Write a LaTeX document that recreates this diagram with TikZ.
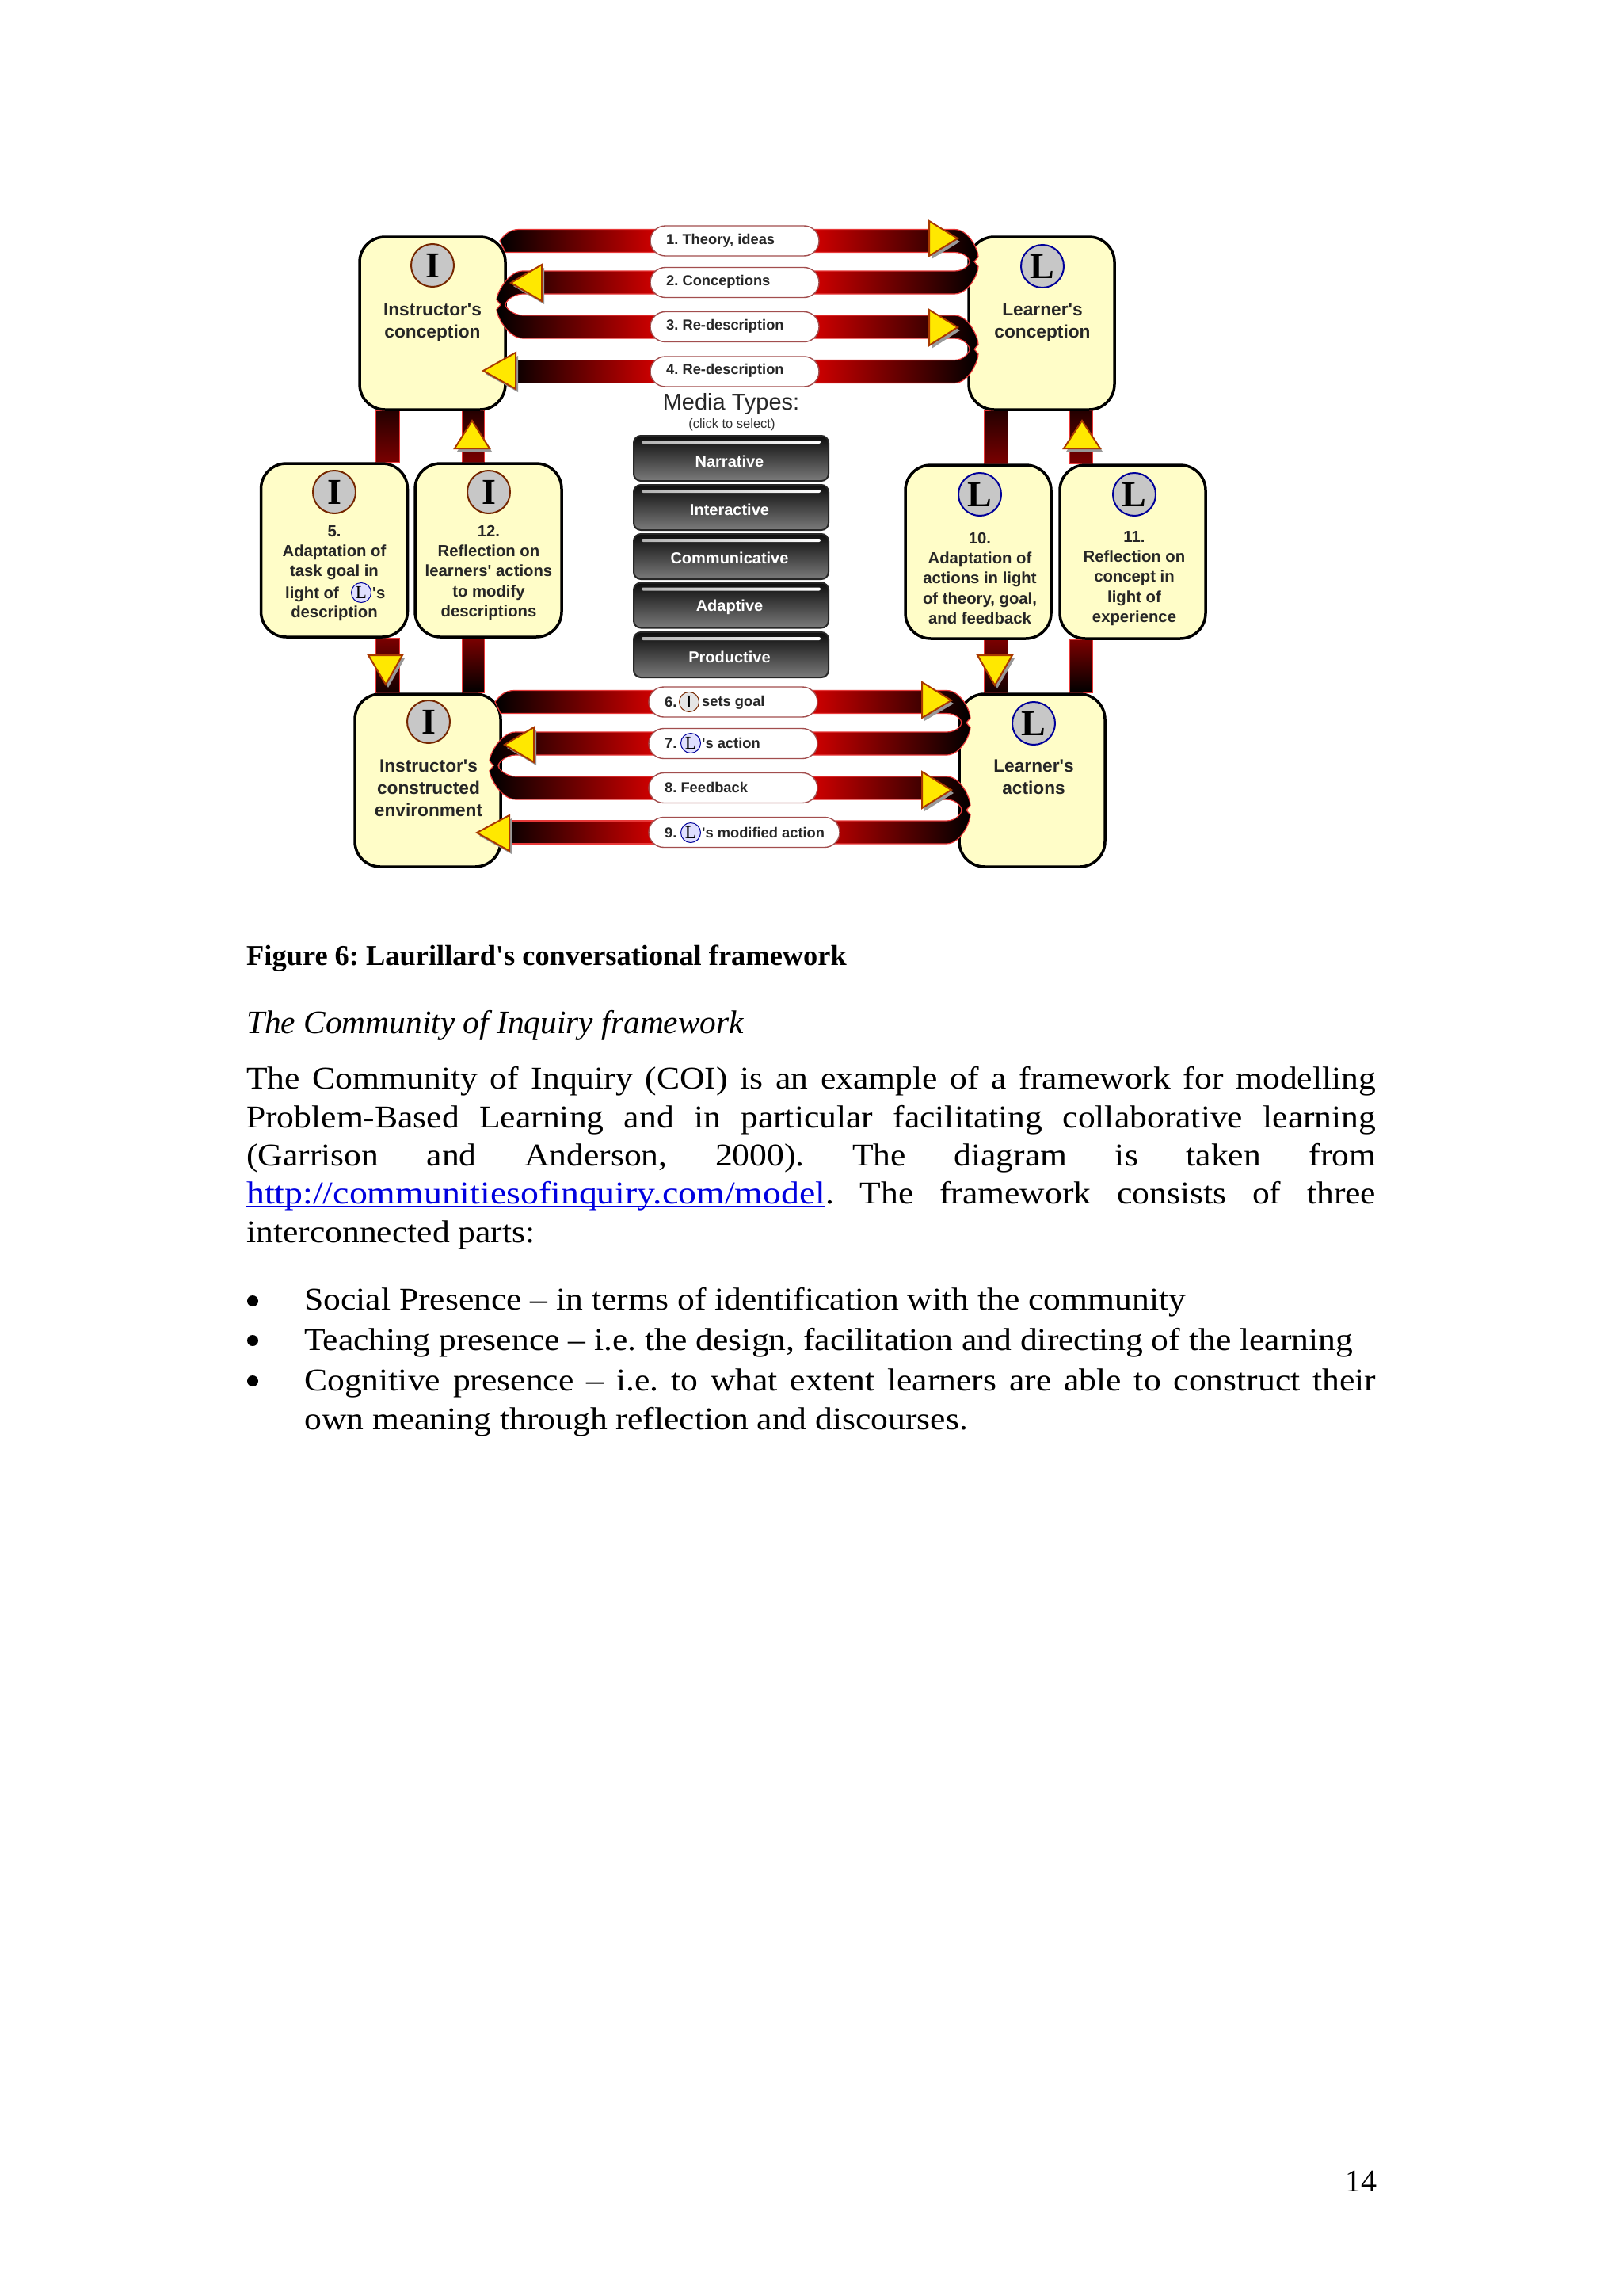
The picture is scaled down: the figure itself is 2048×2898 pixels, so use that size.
\documentclass[tikz,border=0pt]{standalone}
\usepackage{fontspec}
\setmainfont[Ligatures=ResetAll]{Liberation Serif}
\newfontfamily\arialf{Liberation Sans}
\newfontfamily\capf{Liberation Serif}
\newfontfamily\bodyf[FakeStretch=1.09,Ligatures=ResetAll]{Liberation Serif}
\newfontfamily\linkf[FakeStretch=1.145,Ligatures=ResetAll]{Liberation Serif}
\usetikzlibrary{calc}
\pgfdeclarelayer{back}
\pgfdeclarelayer{bands}
\pgfdeclarelayer{pills}
\pgfdeclarelayer{front}
\pgfsetlayers{back,main,bands,pills,front}
\definecolor{boxfill}{HTML}{FFFDC8}
\definecolor{bandred}{HTML}{D00000}
\definecolor{bandedge}{HTML}{E83838}
\definecolor{maroon}{HTML}{7A0000}
\definecolor{tyellow}{HTML}{FFE800}
\definecolor{tedge}{HTML}{A83800}
\definecolor{linkblue}{HTML}{0000E0}
\newcommand{\fs}[2]{\fontsize{#1}{#2}\selectfont}
\tikzset{
  x=1pt,y=-1pt,
  every node/.append style={execute at begin node=\frenchspacing},
  bigbox/.style={draw=black,line width=3.5pt,fill=boxfill,rounded corners=32pt,inner sep=0pt,minimum width=#1},
  pillbox/.style={draw=bandedge!60!black!80,line width=1.4pt,fill=white,rounded corners=19pt,inner sep=0pt,minimum height=38pt},
  bandL/.style={left color=black,right color=bandred,draw=bandedge,line width=1.2pt},
  bandR/.style={left color=bandred,right color=black,draw=bandedge,line width=1.2pt},
  tri/.style={fill=tyellow,draw=tedge,line width=2pt,line join=miter},
  trishadow/.style={fill=black!40},
  circI/.style={circle,draw=black!30!tedge,line width=2pt,fill=black!22,inner sep=0pt,minimum size=54pt,font=\bfseries\fs{46}{46}},
  circL/.style={circle,draw=blue!60!black,line width=2pt,fill=black!22,inner sep=0pt,minimum size=54pt,font=\bfseries\fs{46}{46}},
  miniI/.style={circle,draw=black!30!tedge,line width=1pt,fill=black!10,inner sep=0pt,minimum size=25pt,font=\fs{23}{23}},
  miniL/.style={circle,draw=blue!60!black,line width=1pt,fill=blue!12,inner sep=0pt,minimum size=25pt,font=\fs{23}{23}},
  boxhead/.style={font=\arialf\bfseries\fs{22.7}{28},align=center,inner sep=0pt,text=black!85},
  boxtext/.style={font=\arialf\bfseries\fs{20.3}{25.2},align=center,inner sep=0pt,text=black!85},
  pilltext/.style={font=\arialf\bfseries\fs{18.3}{20},anchor=west,inner sep=0pt,text=black!85},
  btn/.style={draw=black!85,line width=2pt,rounded corners=9pt,top color=black!95,bottom color=black!52,minimum width=246pt,minimum height=57pt,inner sep=0pt},
  btnlabel/.style={text=white,font=\arialf\bfseries\fs{20}{20},inner sep=0pt},
  btnglow/.style={left color=black!30,right color=white,rounded corners=2pt},
  body/.style={anchor=base west,inner sep=0pt,font=\bodyf\fs{40}{48}},
  dot/.style={circle,fill=black,inner sep=0pt,minimum size=14pt},
}
\newcommand{\tl}[2]{\hbox to #1pt{\spaceskip=.22em plus 1fil\relax #2}}
\newcommand{\linkbox}[1]{\setbox0\hbox{\linkf #1}\textcolor{linkblue}{\rlap{\raise-5pt\hbox to \wd0{\leaders\hrule height 2.4pt\hfill}}\box0}}
\newcommand{\URight}[3]{%
  \coordinate (ua) at (#3,0 |- #1.east);
  \coordinate (ub) at (#3,0 |- #2.east);
  \coordinate (um) at ($(ua)!.5!(ub)$);
  \path[bandR] ([xshift=-8pt,yshift=14.5pt]#1.east) -- ([yshift=14.5pt]ua)
   .. controls ([xshift=18pt,yshift=14.5pt]ua) and ([xshift=30pt,yshift=15pt]um) .. ([xshift=30pt,yshift=6pt]um)
   -- ([xshift=25pt]um) -- ([xshift=30pt,yshift=-6pt]um)
   .. controls ([xshift=30pt,yshift=-15pt]um) and ([xshift=18pt,yshift=-14.5pt]ub) .. ([yshift=-14.5pt]ub)
   -- ([xshift=-8pt,yshift=-14.5pt]#2.east) -- ([xshift=-8pt,yshift=14.5pt]#2.east) -- ([yshift=14.5pt]ub)
   .. controls ([xshift=12pt,yshift=14.5pt]ub) and ([xshift=19pt,yshift=-4pt]um) .. ([xshift=19pt]um)
   .. controls ([xshift=19pt,yshift=4pt]um) and ([xshift=12pt,yshift=-14.5pt]ua) .. ([yshift=-14.5pt]ua)
   -- ([xshift=-8pt,yshift=-14.5pt]#1.east) -- cycle;}
\newcommand{\ULeft}[3]{%
  \coordinate (ua) at (#3,0 |- #1.west);
  \coordinate (ub) at (#3,0 |- #2.west);
  \coordinate (um) at ($(ua)!.5!(ub)$);
  \path[bandL] ([xshift=8pt,yshift=14.5pt]#1.west) -- ([yshift=14.5pt]ua)
   .. controls ([xshift=-18pt,yshift=14.5pt]ua) and ([xshift=-33pt,yshift=15pt]um) .. ([xshift=-33pt,yshift=6pt]um)
   -- ([xshift=-28pt]um) -- ([xshift=-33pt,yshift=-6pt]um)
   .. controls ([xshift=-33pt,yshift=-15pt]um) and ([xshift=-18pt,yshift=-14.5pt]ub) .. ([yshift=-14.5pt]ub)
   -- ([xshift=8pt,yshift=-14.5pt]#2.west) -- ([xshift=8pt,yshift=14.5pt]#2.west) -- ([yshift=14.5pt]ub)
   .. controls ([xshift=-12pt,yshift=14.5pt]ub) and ([xshift=-22pt,yshift=-4pt]um) .. ([xshift=-22pt]um)
   .. controls ([xshift=-22pt,yshift=4pt]um) and ([xshift=-12pt,yshift=-14.5pt]ua) .. ([yshift=-14.5pt]ua)
   -- ([xshift=8pt,yshift=-14.5pt]#1.west) -- cycle;}
\newcommand{\BCorner}[2]{%
  \coordinate (ua) at (#2,0 |- #1.west);
  \path[bandL] ([xshift=8pt,yshift=14.5pt]#1.west) -- ([yshift=14.5pt]ua)
   .. controls ([xshift=-12pt,yshift=14.5pt]ua) and ([xshift=-19pt,yshift=7pt]ua) .. ([xshift=-24pt,yshift=0pt]ua)
   -- ([xshift=-17pt,yshift=-14.5pt]ua) -- ([xshift=8pt,yshift=-14.5pt]#1.west) -- cycle;}
\newcommand{\BStraight}[2]{%
  \coordinate (ua) at (#2,0 |- #1.west);
  \path[bandL] ([yshift=14.5pt]ua) rectangle ([xshift=8pt,yshift=-14.5pt]#1.west);}
\newcommand{\VLink}[6]{%
  \path[top color=#5,bottom color=#6,draw=bandedge,line width=1pt] (#1,0 |- #3.south) rectangle (#2,0 |- #4.north);}
\newcommand{\Head}[6]{%
  \fill[trishadow] ([xshift=3pt,yshift=-4pt]#1,#2) -- ([xshift=3pt,yshift=-4pt]#3,#4) -- ([xshift=3pt,yshift=-4pt]#5,#6) -- cycle;
  \path[tri] (#1,#2) -- (#3,#4) -- (#5,#6) -- cycle;}
\begin{document}
\begin{tikzpicture}
\begin{pgfonlayer}{back}
\path[use as bounding box,fill=white] (0,0) rectangle (2048,2898);
\end{pgfonlayer}

% boxes
\path node[bigbox=184pt,minimum height=218pt] (ic) at (546,408) {}
      node[bigbox=184pt,minimum height=218pt] (lc) at (1315,408) {}
      node[bigbox=185pt,minimum height=219pt] (b5) at (422,694.5) {}
      node[bigbox=185pt,minimum height=219pt] (b12) at (616.5,694.5) {}
      node[bigbox=184pt,minimum height=219pt] (b10) at (1235,696.5) {}
      node[bigbox=184pt,minimum height=219pt] (b11) at (1430,696.5) {}
      node[bigbox=184pt,minimum height=218pt] (ie) at (540,985) {}
      node[bigbox=184pt,minimum height=218pt] (la) at (1303,985) {};

% vertical links
\begin{pgfonlayer}{back}
\VLink{474}{504}{ic}{b5}{black!70!maroon}{maroon}
\VLink{583}{611}{ic}{b12}{black!70!maroon}{maroon}
\VLink{474}{504}{b5}{ie}{maroon}{black!85!maroon}
\VLink{583}{611}{b12}{ie}{maroon}{black}
\VLink{1242}{1272}{lc}{b10}{black!70!maroon}{maroon}
\VLink{1350}{1379}{lc}{b11}{black!70!maroon}{maroon}
\VLink{1242}{1272}{b10}{la}{maroon}{black!85!maroon}
\VLink{1350}{1379}{b11}{la}{maroon}{black}
\end{pgfonlayer}

% pills
\begin{pgfonlayer}{pills}
\path node[pillbox,minimum width=213pt] (p1) at (927.5,304) {}
      node[pillbox,minimum width=213pt] (p2) at (927.5,356.5) {}
      node[pillbox,minimum width=213pt] (p3) at (927.5,412.5) {}
      node[pillbox,minimum width=213pt] (p4) at (927.5,469) {}
      node[pillbox,minimum width=213pt] (p6) at (925.5,886) {}
      node[pillbox,minimum width=213pt] (p7) at (925.5,938.5) {}
      node[pillbox,minimum width=213pt] (p8) at (925.5,994.5) {}
      node[pillbox,minimum width=241pt] (p9) at (939.5,1050.5) {};
\end{pgfonlayer}

% horizontal bands
\begin{pgfonlayer}{bands}
\URight{p1}{p2}{1205}
\URight{p3}{p4}{1205}
\URight{p6}{p7}{1195}
\URight{p8}{p9}{1195}
\BCorner{p1}{655}
\ULeft{p2}{p3}{660}
\BStraight{p4}{640}
\BCorner{p6}{649}
\ULeft{p7}{p8}{651}
\BStraight{p9}{632}
\end{pgfonlayer}

\begin{pgfonlayer}{front}
% arrow heads
\Head{1173}{279}{1209}{301}{1173}{323}
\Head{1173}{391}{1209}{413}{1173}{436}
\Head{684}{334}{645}{357}{684}{380}
\Head{651}{445}{610}{468}{651}{491}
\Head{1164}{861}{1201}{884}{1164}{906}
\Head{1164}{974}{1201}{997}{1164}{1020}
\Head{674}{918}{637}{940}{674}{962}
\Head{643}{1029}{602}{1051}{643}{1074}
\Head{465}{827}{508}{827}{487}{864}
\Head{1234}{827}{1278}{827}{1256}{865}
\Head{574}{566}{618}{566}{596}{531}
\Head{1343}{566}{1389}{566}{1366}{531}

% big circles
\node[circI] (ci1) at (546,335) {I};
\node[circL] (cl1) at (1316,336) {L};
\node[circI] (ci2) at (422,621) {I};
\node[circI] (ci3) at (617,621) {I};
\node[circL] (cl2) at (1237,624) {L};
\node[circL] (cl3) at (1432,624) {L};
\node[circI] (ci4) at (541,911) {I};
\node[circL] (cl4) at (1305,913) {L};

% box texts
\node[boxhead] (t1) at (546,407) {Instructor's\\conception};
\node[boxhead] (t2) at (1316,407) {Learner's\\conception};
\node[boxhead] (t3) at (541,995) {Instructor's\\constructed\\environment};
\node[boxhead] (t4) at (1305,981) {Learner's\\actions};
\node[boxtext] (t5a) at (422,697.5) {5.\\Adaptation of\\task goal in};
\node[boxtext,anchor=base east] (t5b) at (428,755) {light of};
\node[miniL] (m5) at (456,748) {L};
\node[boxtext,anchor=base west] (t5c) at (470,755) {'s};
\node[boxtext] (t5d) at (422,774) {description};
\node[boxtext] (t12) at (617,723) {12.\\Reflection on\\learners' actions\\to modify\\descriptions};
\node[boxtext] (t10) at (1237,730) {10.\\Adaptation of\\actions in light\\of theory, goal,\\and feedback};
\node[boxtext] (t11) at (1432,730) {11.\\Reflection on\\concept in\\light of\\experience};

% pill texts
\node[pilltext] (l1) at (841,304) {1. Theory, ideas};
\node[pilltext] (l2) at (841,356) {2. Conceptions};
\node[pilltext] (l3) at (841,412) {3. Re-description};
\node[pilltext] (l4) at (841,468) {4. Re-description};
\node[pilltext] (l6) at (839,886) {6.};
\node[miniI] (m6) at (870,886) {I};
\node[pilltext] (l6b) at (886,887) {sets goal};
\node[pilltext] (l7) at (839,938) {7.};
\node[miniL] (m7) at (872,938) {L};
\node[pilltext] (l7b) at (886,938) {'s action};
\node[pilltext] (l8) at (839,994) {8. Feedback};
\node[pilltext] (l9) at (839,1051) {9.};
\node[miniL] (m9) at (872,1051) {L};
\node[pilltext] (l9b) at (886,1051) {'s modified action};

% media types
\node[font=\arialf\fs{29}{29},inner sep=0pt,text=black!85] (mt) at (923,510) {Media Types:};
\node[font=\arialf\fs{16.5}{17},inner sep=0pt,text=black!80] (mts) at (924,536) {(click to select)};
\node[btn] (bn1) at (923,578.5) {};
\node[btn] (bn2) at (923,640.5) {};
\node[btn] (bn3) at (923,702.5) {};
\node[btn] (bn4) at (923,764) {};
\node[btn] (bn5) at (923,826.5) {};
\foreach \n in {bn1,bn2,bn3,bn4,bn5}{
  \path[btnglow] ([xshift=-113pt,yshift=-7pt]\n.north) rectangle ([xshift=113pt,yshift=-11pt]\n.north);
}
\node[btnlabel] (bt1) at (921,582) {Narrative};
\node[btnlabel] (bt2) at (921,643) {Interactive};
\node[btnlabel] (bt3) at (921,704) {Communicative};
\node[btnlabel] (bt4) at (921,766) {Adaptive};
\node[btnlabel] (bt5) at (921,829) {Productive};

% page text
\node[anchor=base west,inner sep=0pt,font=\capf\bfseries\fs{36.4}{40}] (cap) at (311,1218) {Figure 6: Laurillard's conversational framework};
\node[anchor=base west,inner sep=0pt,font=\itshape\fs{41.4}{48}] (hd) at (311,1304) {The Community of Inquiry framework};
\node[body] (a1) at (311,1374) {\tl{1426}{The Community of Inquiry (COI) is an example of a framework for modelling}};
\node[body] (a2) at (311,1423) {\tl{1426}{Problem-Based Learning and in particular facilitating collaborative learning}};
\node[body] (a3) at (311,1471) {\tl{1426}{(Garrison and Anderson, 2000). The diagram is taken from}};
\node[body] (a4) at (311,1519) {\tl{1426}{\linkbox{http://communitiesofinquiry.com/model}. The framework consists of three}};
\node[body] (a5) at (311,1568) {interconnected parts:};
\node[dot] (d1) at (319,1642) {};
\node[dot] (d2) at (319,1692) {};
\node[dot] (d3) at (319,1743) {};
\node[body] (c1) at (384,1653) {Social Presence – in terms of identification with the community};
\node[body] (c2) at (384,1704) {Teaching presence – i.e. the design, facilitation and directing of the learning};
\node[body] (c3) at (384,1755) {\tl{1353}{Cognitive presence – i.e. to what extent learners are able to construct their}};
\node[body] (c4) at (384,1804) {own meaning through reflection and discourses.};
\node[anchor=base east,inner sep=0pt,font=\fs{40}{40}] (pg) at (1739,2766) {14};
\end{pgfonlayer}
\end{tikzpicture}
\end{document}
